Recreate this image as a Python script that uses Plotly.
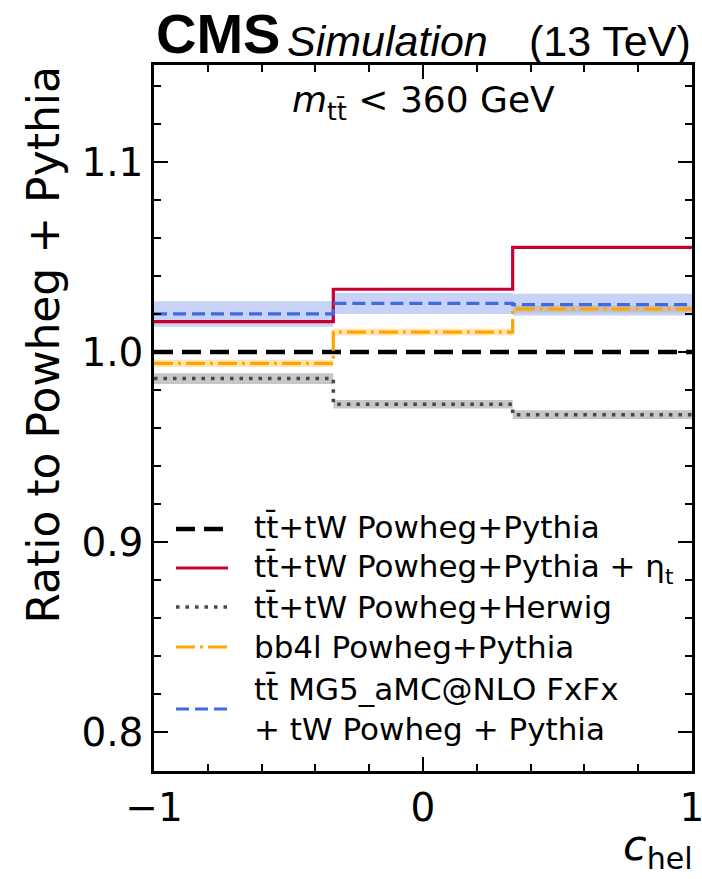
import plotly.graph_objects as go

# ---- data ----
edges = [-1.0, -1/3, 1/3, 1.0]
nominal = [1.0, 1.0, 1.0]
eta_t = [1.016, 1.033, 1.055]
herwig = [0.986, 0.9725, 0.967]
herwig_unc = [0.0028, 0.0022, 0.0023]
bb4l = [0.994, 1.0104, 1.0226]
bb4l_unc = [0.0019, 0.0018, 0.0018]
mg5 = [1.020, 1.0256, 1.0249]
mg5_unc = [0.0067, 0.0056, 0.0057]

x_tickvals = [-1, 0, 1]
x_ticktext = ["\u22121", "0", "1"]
y_tickvals = [0.8, 0.9, 1.0, 1.1]
y_ticktext = ["0.8", "0.9", "1.0", "1.1"]

TT = "t" + "t\u0304"
legend_labels = [
    TT + "+tW Powheg+Pythia",
    TT + "+tW Powheg+Pythia + η<sub>t</sub>",
    TT + "+tW Powheg+Herwig",
    "bb4l Powheg+Pythia",
    TT + " MG5_aMC@NLO FxFx<br>+ tW Powheg + Pythia",
]

BLACK = "#000000"
RED = "#c8002f"
GRAY = "#474747"
ORANGE = "#ffa500"
BLUE = "#4169e1"

FONT = "DejaVu Sans"

def stepy(v):
    return list(v) + [v[-1]]

fig = go.Figure()

def band(vals, unc, color):
    lo = [v - u for v, u in zip(vals, unc)]
    hi = [v + u for v, u in zip(vals, unc)]
    fig.add_trace(go.Scatter(x=edges, y=stepy(lo), mode="lines", line=dict(width=0, shape="hv"),
                             showlegend=False, hoverinfo="skip"))
    fig.add_trace(go.Scatter(x=edges, y=stepy(hi), mode="lines", line=dict(width=0, shape="hv"),
                             fill="tonexty", fillcolor=color, showlegend=False, hoverinfo="skip"))

band(herwig, herwig_unc, "rgba(71,71,71,0.3)")
band(bb4l, bb4l_unc, "rgba(255,165,0,0.3)")
band(mg5, mg5_unc, "rgba(65,105,225,0.3)")

styles = [
    (nominal, BLACK, 4.5, "19px,9px"),
    (eta_t, RED, 3.2, "solid"),
    (herwig, GRAY, 3.5, "3.5px,6px"),
    (bb4l, ORANGE, 3.2, "19px,5px,3px,5px"),
    (mg5, BLUE, 3.2, "13px,6px"),
]
for vals, col, w, d in styles:
    fig.add_trace(go.Scatter(x=edges, y=stepy(vals), mode="lines",
                             line=dict(color=col, width=w, dash=d, shape="hv"),
                             showlegend=False))

# plot area in pixels
L, R, T, B = 154, 692, 65, 771
W, H = 702, 879
pw, ph = R - L, B - T

def px(x):
    return (x - L) / pw

def py(y):
    return (B - y) / ph

# manual legend
leg_line_y = [529, 568, 607, 647, 709]
leg_text_y = [527, 568, 607, 647, 709]
shapes = []
annotations = []
for (vals, col, w, d), ly, ty, lab in zip(styles, leg_line_y, leg_text_y, legend_labels):
    shapes.append(dict(type="line", xref="paper", yref="paper",
                       x0=px(176), x1=px(228), y0=py(ly), y1=py(ly),
                       line=dict(color=col, width=w, dash=d)))
    annotations.append(dict(xref="paper", yref="paper", x=px(252), y=py(ty),
                            xanchor="left", yanchor="middle", align="left",
                            text=lab, showarrow=False,
                            font=dict(family=FONT, size=31, color="black")))

annotations += [
    dict(xref="paper", yref="paper", x=0.5, y=py(103), xanchor="center", yanchor="middle",
         text="<i>m</i><sub>" + TT + "</sub> < 360 GeV", showarrow=False,
         font=dict(family=FONT, size=36, color="black")),
    dict(xref="paper", yref="paper", x=px(44), y=1.002, xanchor="center", yanchor="top",
         textangle=-90, text="Ratio to Powheg + Pythia", showarrow=False,
         font=dict(family=FONT, size=44, color="black")),
    dict(xref="paper", yref="paper", x=1.005, y=py(848), xanchor="right", yanchor="middle",
         text="<i>c</i><sub>hel</sub>", showarrow=False,
         font=dict(family=FONT, size=43, color="black")),
    dict(xref="paper", yref="paper", x=0, y=1, xanchor="left", yanchor="bottom", yshift=-2,
         text="<b>CMS</b>", showarrow=False,
         font=dict(family="Liberation Sans", size=56, color="black")),
    dict(xref="paper", yref="paper", x=px(285), y=1, xanchor="left", yanchor="bottom", yshift=-2,
         text="<i>Simulation</i>", showarrow=False,
         font=dict(family="Liberation Sans", size=43, color="black")),
    dict(xref="paper", yref="paper", x=1.002, y=1, xanchor="right", yanchor="bottom", yshift=-2,
         text="(13 TeV)", showarrow=False,
         font=dict(family="Liberation Sans", size=43, color="black")),
]

axis_common = dict(showline=True, linecolor="black", linewidth=2.5, mirror="allticks",
                   ticks="inside", ticklen=14, tickwidth=2, tickcolor="black",
                   showgrid=False, zeroline=False, automargin=False,
                   ticklabeloverflow="allow",
                   tickfont=dict(family=FONT, size=39, color="black"))

fig.update_layout(
    width=W, height=H,
    margin=dict(l=L, r=W - R, t=T, b=H - B, autoexpand=False),
    plot_bgcolor="white", paper_bgcolor="white",
    showlegend=False,
    shapes=shapes, annotations=annotations,
    xaxis=dict(range=[-1, 1], tickvals=x_tickvals, ticktext=x_ticktext,
               minor=dict(dtick=0.2, tick0=-1, ticks="inside", ticklen=7, tickwidth=2,
                          tickcolor="black", showgrid=False),
               **axis_common),
    yaxis=dict(range=[0.7795, 1.151], tickvals=y_tickvals, ticktext=y_ticktext,
               minor=dict(dtick=0.02, tick0=0.8, ticks="inside", ticklen=7, tickwidth=2,
                          tickcolor="black", showgrid=False),
               **axis_common),
)

fig.write_html("out.html", config={"displayModeBar": False},
               post_script="document.body.style.margin='0';document.body.style.overflow='hidden';")
